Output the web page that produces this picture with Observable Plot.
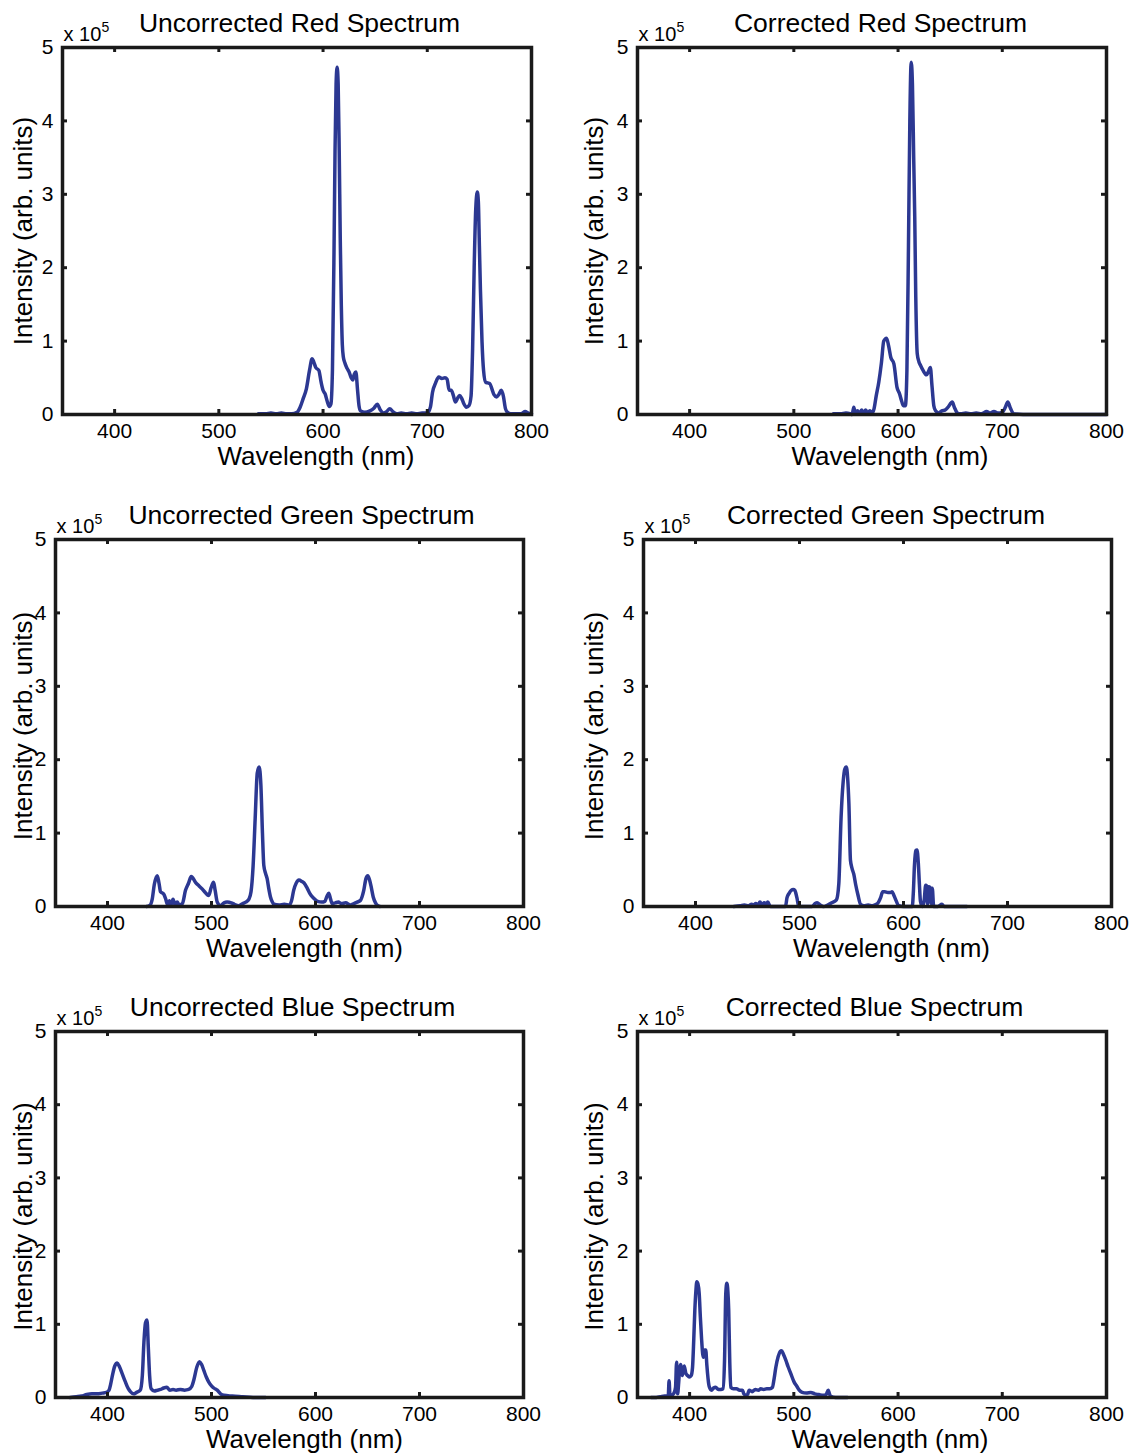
<!DOCTYPE html>
<html>
<head>
<meta charset="utf-8">
<script src="https://cdn.jsdelivr.net/npm/d3@7"></script>
<script src="https://cdn.jsdelivr.net/npm/@observablehq/plot@0.6"></script>
<style>
html, body { margin: 0; padding: 0; background: #fff; }
#root { position: relative; width: 1134px; height: 1455px; overflow: hidden; background: #fff; }
#root svg { position: absolute; }
</style>
</head>
<body>
<div id="root"></div>
<script>
// Axis ticks
const xTicks = [400, 500, 600, 700, 800];
const yTicks = [0, 1, 2, 3, 4, 5];
const xLabel = "Wavelength (nm)";
const yLabel = "Intensity (arb. units)";
const titles = [
  "Uncorrected Red Spectrum", "Corrected Red Spectrum",
  "Uncorrected Green Spectrum", "Corrected Green Spectrum",
  "Uncorrected Blue Spectrum", "Corrected Blue Spectrum"
];

// Spectra: [wavelength nm, intensity ×10^5]
const uncorrectedRed = [
  [538,0.01],[545,0.01],[550,0.02],[555,0.01],[560,0.02],[565,0.01],[570,0.01],[575,0.03],[578,0.1],[581,0.22],
  [584,0.35],[587,0.6],[589.5,0.76],[591,0.72],[593,0.64],[596,0.6],[598,0.45],[600,0.33],[602,0.28],[604,0.18],
  [606,0.11],[607.5,0.14],[609,0.6],[610.5,2.2],[611.5,3.6],[612.5,4.5],[613.5,4.73],[614.5,4.5],[615.5,3.6],[616.5,2.4],
  [617.5,1.5],[618.5,0.95],[619.5,0.78],[621,0.7],[623,0.63],[625,0.58],[627,0.5],[628.5,0.47],[630,0.55],[631.5,0.58],
  [633,0.35],[634.5,0.12],[636,0.05],[640,0.03],[645,0.05],[649,0.09],[652,0.14],[655,0.06],[658,0.02],[661,0.04],
  [664,0.08],[667,0.04],[671,0.01],[675,0.02],[680,0.01],[685,0.02],[690,0.01],[695,0.02],[700,0.02],[703,0.1],
  [705,0.3],[708,0.43],[711,0.51],[714,0.49],[717,0.5],[719,0.48],[721,0.33],[723,0.33],[725,0.26],[727,0.17],
  [729,0.22],[731,0.26],[733,0.22],[735,0.15],[737.5,0.1],[740,0.12],[742,0.25],[743.5,0.9],[745,2.0],[746.5,2.8],
  [748,3.03],[749,2.9],[750,2.3],[751,1.7],[752.5,1.0],[754,0.6],[756,0.44],[758,0.43],[760,0.42],[762,0.35],
  [764,0.27],[766.5,0.24],[768.5,0.27],[771,0.33],[773,0.25],[775,0.08],[777,0.03],[780,0.01],[785,0.01],[790,0.01],
  [794,0.04],[797,0.02],[800,0.01]
];
const correctedRed = [
  [538,0.01],[545,0.01],[550,0.02],[554,0.01],[556,0.0],[557.5,0.1],[559,0.02],[561,0.05],[563,0.01],[565,0.06],
  [567,0.02],[569,0.06],[571,0.01],[573,0.05],[575,0.02],[577,0.08],[579,0.25],[581.5,0.44],[584,0.7],[586.3,1.0],
  [589,1.04],[591,0.93],[593,0.78],[596,0.69],[599,0.37],[601.5,0.28],[603.5,0.18],[605,0.12],[607,0.12],[608.5,0.6],
  [610,2.3],[611.3,4.0],[612.6,4.8],[613.8,4.5],[615,3.5],[616,2.7],[617,1.6],[618.4,0.83],[620,0.72],[621.5,0.67],
  [624,0.6],[627.3,0.54],[629,0.58],[631,0.64],[632.5,0.4],[634.3,0.12],[636,0.05],[639,0.02],[642,0.05],[645,0.06],
  [648,0.1],[652,0.17],[654,0.1],[657,0.02],[660,0.01],[665,0.02],[670,0.01],[675,0.02],[680,0.01],[685,0.04],
  [688,0.02],[692,0.04],[696,0.02],[700,0.03],[703,0.1],[705.3,0.17],[708,0.08],[711,0.01],[720,0.0],[740,0.0],
  [760,0.0],[780,0.0],[800,0.0]
];
const uncorrectedGreen = [
  [437.5,0.0],[441,0.02],[443,0.1],[445,0.3],[447.8,0.42],[449.5,0.32],[451,0.2],[454,0.17],[456,0.1],[457.5,0.03],
  [459.5,0.08],[461,0.02],[463,0.1],[465,0.02],[467,0.06],[469,0.02],[472,0.04],[475,0.22],[478,0.32],[480.5,0.41],
  [484.6,0.33],[488,0.28],[491,0.24],[494,0.19],[497.4,0.15],[499.5,0.25],[502,0.33],[503.5,0.22],[505.5,0.06],[508.7,0.01],
  [512,0.05],[515,0.06],[519,0.05],[522,0.03],[526,0.01],[530,0.04],[533,0.06],[536,0.1],[538,0.2],[540,0.55],
  [542,1.2],[544,1.82],[545.8,1.9],[547.5,1.65],[549,1.0],[550.3,0.56],[552,0.45],[553.5,0.38],[555,0.25],[556.7,0.13],
  [558.5,0.06],[560,0.03],[565,0.02],[570,0.03],[575,0.02],[577,0.08],[579,0.22],[581.5,0.32],[584,0.36],[587,0.34],
  [589,0.32],[592,0.25],[594.5,0.18],[597,0.13],[600,0.09],[602,0.07],[606,0.06],[609,0.07],[611,0.14],[612.8,0.18],
  [614.5,0.1],[616,0.04],[619,0.05],[622,0.06],[625,0.04],[629,0.05],[633.5,0.02],[637,0.04],[640,0.06],[643,0.08],
  [646.4,0.22],[648.5,0.38],[650.3,0.42],[652,0.36],[653.5,0.27],[655.5,0.13],[657.7,0.05],[660,0.01],[662,0.0]
];
const correctedGreen = [
  [436.8,0.0],[443,0.01],[447,0.02],[451,0.01],[454,0.03],[456,0.02],[458,0.04],[460,0.02],[462,0.06],[464,0.02],
  [466,0.05],[468,0.03],[469.5,0.06],[472,0.0],[480,0.0],[486.5,0.0],[488,0.12],[490,0.18],[492,0.22],[494,0.23],
  [495.5,0.22],[497.5,0.12],[499.3,0.0],[505,0.0],[512,0.0],[515,0.04],[517,0.05],[520,0.02],[523,0.0],[527,0.02],
  [531,0.05],[535.5,0.09],[537.8,0.31],[540,1.22],[542,1.7],[543.5,1.87],[545,1.9],[546.3,1.75],[547.5,1.4],[549,0.63],
  [550.5,0.52],[552.2,0.44],[554,0.3],[556,0.17],[558.7,0.03],[562,0.01],[566,0.02],[570,0.01],[574,0.03],[576,0.06],
  [578,0.12],[580,0.2],[582,0.2],[585,0.19],[587.5,0.19],[589,0.2],[590.5,0.16],[592.3,0.1],[595.5,0.01],[600,0.0],
  [605,0.0],[608.4,0.0],[609.5,0.2],[610.5,0.55],[611.8,0.76],[613,0.77],[614.2,0.6],[615.3,0.3],[616.3,0.07],[618.3,0.0],
  [620,0.1],[621.3,0.29],[622.3,0.28],[623.2,0.03],[624.2,0.27],[625.5,0.26],[626.7,0.04],[627.7,0.25],[629,0.0],[633,0.0],
  [637,0.03],[639,0.0],[645,0.0],[655,0.0],[661,0.0]
];
const uncorrectedBlue = [
  [364,0.0],[370,0.01],[375,0.02],[380,0.04],[385,0.05],[390,0.05],[395,0.06],[399,0.07],[401.5,0.1],[403,0.18],
  [405,0.32],[407,0.43],[409.3,0.47],[411.5,0.42],[414,0.33],[417,0.22],[420,0.12],[422,0.08],[425,0.05],[428,0.07],
  [431.5,0.1],[433.5,0.3],[435,0.75],[436.5,1.02],[438,1.06],[439.2,0.7],[440.5,0.3],[442,0.12],[445,0.09],[448,0.1],
  [451,0.11],[454,0.13],[457,0.14],[460,0.1],[463,0.11],[466,0.1],[470,0.11],[474,0.1],[478,0.11],[481,0.15],
  [483,0.24],[486,0.42],[488.5,0.49],[490.5,0.45],[492.6,0.37],[495,0.28],[497.4,0.21],[500,0.16],[502.2,0.13],[505.5,0.1],
  [508.7,0.05],[512,0.03],[520,0.02],[530,0.01],[540,0.0],[552,0.0]
];
const correctedBlue = [
  [363,0.0],[368,0.0],[372,0.01],[376,0.02],[379.5,0.02],[380.3,0.23],[381.2,0.02],[383,0.03],[385,0.06],[386.5,0.14],
  [387.5,0.48],[388.5,0.05],[389.5,0.2],[390.5,0.4],[391.6,0.45],[393,0.3],[394.8,0.43],[396.4,0.33],[398,0.3],[399.6,0.28],
  [401.5,0.3],[402.8,0.41],[404,0.8],[405,1.19],[406,1.45],[406.9,1.58],[408,1.55],[409.2,1.42],[410.3,1.1],[411.4,0.82],
  [412.5,0.6],[413.3,0.55],[414.5,0.65],[415.5,0.65],[416.5,0.45],[417.2,0.33],[418.8,0.15],[421,0.1],[423,0.13],[425,0.14],
  [427.5,0.11],[430,0.11],[432,0.12],[433.5,0.5],[434.7,1.42],[435.7,1.56],[436.7,1.45],[437.5,1.2],[438.5,0.5],[439.5,0.14],
  [442,0.12],[445,0.12],[448,0.1],[450.7,0.1],[452,0.05],[454,0.03],[455.5,0.04],[457.2,0.1],[460,0.08],[463,0.11],
  [466,0.1],[468.3,0.12],[471,0.11],[474,0.12],[477,0.12],[479.5,0.14],[481,0.25],[482.7,0.41],[485,0.56],[487,0.63],
  [488.2,0.64],[490,0.59],[492.3,0.51],[494.5,0.42],[497,0.33],[500.3,0.21],[503,0.15],[505.2,0.1],[508,0.07],[512,0.06],
  [516.3,0.07],[520,0.05],[524,0.04],[528,0.03],[531,0.04],[533,0.1],[535,0.02],[540,0.0],[545,0.0],[551.5,0.0]
];

const spectra = [uncorrectedRed, correctedRed, uncorrectedGreen, correctedGreen, uncorrectedBlue, correctedBlue];

// Layout of the six panels (cell origin and margins)
const layout = [
  {cx: 0,   cy: 0,   h: 490, mL: 62, mR: 36, mT: 47, mB: 76, tDx: 2.5, xDx: 19, yX: 31, yDy: 0},
  {cx: 567, cy: 0,   h: 490, mL: 70, mR: 28, mT: 47, mB: 76, tDx: 8.5, xDx: 18, yX: 35, yDy: 0},
  {cx: 0,   cy: 490, h: 490, mL: 55, mR: 44, mT: 49, mB: 74, tDx: 12,  xDx: 15, yX: 31, yDy: 3},
  {cx: 567, cy: 490, h: 490, mL: 76, mR: 23, mT: 49, mB: 74, tDx: 8.5, xDx: 14, yX: 35, yDy: 3},
  {cx: 0,   cy: 980, h: 475, mL: 55, mR: 44, mT: 51, mB: 58, tDx: 3,   xDx: 15, yX: 31, yDy: 2},
  {cx: 567, cy: 980, h: 475, mL: 70, mR: 28, mT: 51, mB: 58, tDx: 2.5, xDx: 18, yX: 35, yDy: 2}
];

const FONT = "'Liberation Sans', Arial, Helvetica, sans-serif";
const LINE = "#2C3892";
const INK = "#1a1a1a";
const root = document.getElementById("root");

layout.forEach((p, i) => {
  const W = 567;
  const innerW = W - p.mL - p.mR, innerH = p.h - p.mT - p.mB;
  const tx = 5 * 450 / innerW, ty = 5 * 5 / innerH;
  const chart = Plot.plot({
    width: W, height: p.h,
    marginLeft: p.mL, marginRight: p.mR, marginTop: p.mT, marginBottom: p.mB,
    x: {domain: [350, 800]},
    y: {domain: [0, 5]},
    style: {fontFamily: FONT, color: "#000", background: "transparent", overflow: "visible"},
    marks: [
      Plot.line(spectra[i], {x: d => d[0], y: d => d[1], stroke: LINE, strokeWidth: 3.5, curve: "monotone-x", strokeLinejoin: "round"}),
      Plot.ruleX(xTicks, {x: d => d, y1: 0, y2: ty, stroke: INK, strokeWidth: 3}),
      Plot.ruleX(xTicks, {x: d => d, y1: 5 - ty, y2: 5, stroke: INK, strokeWidth: 3}),
      Plot.ruleY(yTicks, {y: d => d, x1: 350, x2: 350 + tx, stroke: INK, strokeWidth: 3}),
      Plot.ruleY(yTicks, {y: d => d, x1: 800 - tx, x2: 800, stroke: INK, strokeWidth: 3}),
      Plot.frame({stroke: INK, strokeWidth: 3.5}),
      Plot.axisX({ticks: xTicks, tickSize: 0, tickPadding: 9, fontSize: 21, label: null, tickFormat: d => String(d)}),
      Plot.axisY({ticks: yTicks, tickSize: 0, tickPadding: 9, fontSize: 21, label: null, tickFormat: d => String(d)}),
      Plot.text([titles[i]], {text: d => d, frameAnchor: "top", textAnchor: "middle", dy: -16, dx: p.tDx, lineAnchor: "bottom", fontSize: 26.5, fill: "#000"}),
      Plot.text([xLabel], {text: d => d, frameAnchor: "bottom", textAnchor: "middle", dy: 50, dx: p.xDx, lineAnchor: "bottom", fontSize: 26, fill: "#000"}),
      Plot.text([yLabel], {text: d => d, frameAnchor: "left", textAnchor: "middle", rotate: -90, dx: p.yX - p.mL, dy: p.yDy, lineAnchor: "bottom", fontSize: 26, fill: "#000"}),
      Plot.text(["x 10"], {text: d => d, frameAnchor: "top-left", textAnchor: "start", dx: 1, dy: -7, lineAnchor: "bottom", fontSize: 20, fill: "#000"}),
      Plot.text(["5"], {text: d => d, frameAnchor: "top-left", textAnchor: "start", dx: 39, dy: -16, lineAnchor: "bottom", fontSize: 14, fill: "#000"})
    ]
  });
  chart.style.left = p.cx + "px";
  chart.style.top = p.cy + "px";
  root.appendChild(chart);
});
</script>
</body>
</html>
